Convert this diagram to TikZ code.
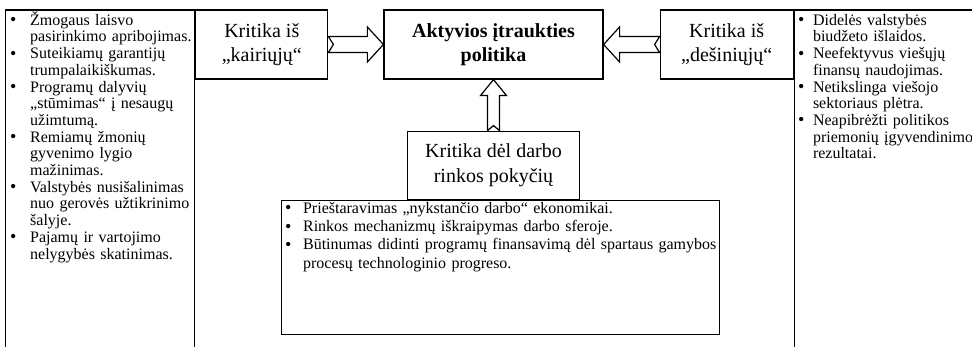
\documentclass[tikz,border=0pt]{standalone}
\usepackage{fontspec}
\setmainfont{Liberation Serif}
\usetikzlibrary{positioning,calc}

\newcommand{\bitem}[2][18pt]{\par\hangindent=#1\hangafter=1\noindent\makebox[#1][l]{\smash{\raisebox{-0.5pt}{\fontsize{18}{18}\selectfont\textbullet}}}#2\par}

\begin{document}
\begin{tikzpicture}[
    node distance=2cm,
    frame/.style={
        rectangle,
        draw,
        line width=1.2pt,
        inner sep=0pt
    },
    title/.style={
        frame,
        minimum height=69pt,
        align=center,
        font=\fontsize{20}{24.5}\selectfont
    },
    bullets/.style={
        inner sep=0pt,
        align=left,
        font=\fontsize{16}{16.7}\selectfont
    },
    hollow/.style 2 args={
        fill=white,
        line width=1.2pt,
        to path={
            let \p1=(\tikztostart), \p2=(\tikztotarget),
                \n1={atan2(\y2-\y1,\x2-\x1)},
                \n2={veclen(\x2-\x1,\y2-\y1)-16pt}
            in ($(\p1)+(\n1+90:#1)$)
            -- ($(\p1)+(\n1:\n2)+(\n1+90:#1)$)
            -- ($(\p1)+(\n1:\n2)+(\n1+90:#2)$)
            -- (\p2)
            -- ($(\p1)+(\n1:\n2)+(\n1-90:#2)$)
            -- ($(\p1)+(\n1:\n2)+(\n1-90:#1)$)
            -- ($(\p1)+(\n1-90:#1)$)
            -- ($(\p1)+(\n1:5pt)$)
            -- cycle
        }
    }
]
\useasboundingbox (-493.5pt,44.5pt) rectangle ++(972pt,-347pt);

% Boxes
\node [title, minimum width=219pt, font=\bfseries\fontsize{20}{24.5}\selectfont] (main) {Aktyvios įtraukties\\politika};
\node [title, minimum width=132pt, left=55pt of main] (kair) {Kritika iš\\„kairiųjų“};
\node [title, minimum width=133pt, right=56pt of main] (desin) {Kritika iš\\„dešiniųjų“};
\node [title, minimum width=172pt, minimum height=68pt, below=51pt of main] (darbo) {Kritika dėl darbo\\rinkos pokyčių};
\node [frame, minimum width=438pt, minimum height=134pt, below=0pt of darbo, xshift=7pt] (crit) {};

% Side columns
\node [frame, minimum width=189pt, minimum height=345pt, anchor=north east] (colL) at (kair.north west) {};
\node [frame, minimum width=200pt, minimum height=345pt, anchor=north west] (colR) at (desin.north east) {};

% Lists
\node [bullets, text width=220pt, below right=-1pt and 5pt of colL.north west] (lefttxt) {%
    \bitem[20pt]{Žmogaus laisvo\newline pasirinkimo apribojimas.}
    \bitem[20pt]{Suteikiamų garantijų\newline trumpalaikiškumas.}
    \bitem[20pt]{Programų dalyvių\newline „stūmimas“ į nesaugų\newline užimtumą.}
    \bitem[20pt]{Remiamų žmonių\newline gyvenimo lygio\newline mažinimas.}
    \bitem[20pt]{Valstybės nusišalinimas\newline nuo gerovės užtikrinimo\newline šalyje.}
    \bitem[20pt]{Pajamų ir vartojimo\newline nelygybės skatinimas.}};
\node [bullets, text width=200pt, below right=-1pt and 4pt of colR.north west] (righttxt) {%
    \bitem[15pt]{Didelės valstybės\newline biudžeto išlaidos.}
    \bitem[15pt]{Neefektyvus viešųjų\newline finansų naudojimas.}
    \bitem[15pt]{Netikslinga viešojo\newline sektoriaus plėtra.}
    \bitem[15pt]{Neapibrėžti politikos\newline priemonių įgyvendinimo\newline rezultatai.}};
\node [bullets, text width=460pt, font=\fontsize{16}{18.3}\selectfont, below right=-5pt and 4pt of crit.north west] (crittxt) {%
    \bitem{Prieštaravimas „nykstančio darbo“ ekonomikai.}
    \bitem{Rinkos mechanizmų iškraipymas darbo sferoje.}
    \bitem{Būtinumas didinti programų finansavimą dėl spartaus gamybos\newline procesų technologinio progreso.}};

% Arrows
\draw [hollow={8pt}{17.5pt}] (kair.east) to (main.west);
\draw [hollow={8pt}{17.5pt}] (desin.west) to (main.east);
\draw [hollow={6pt}{13pt}] (darbo.north) to (main.south);

\end{tikzpicture}
\end{document}
